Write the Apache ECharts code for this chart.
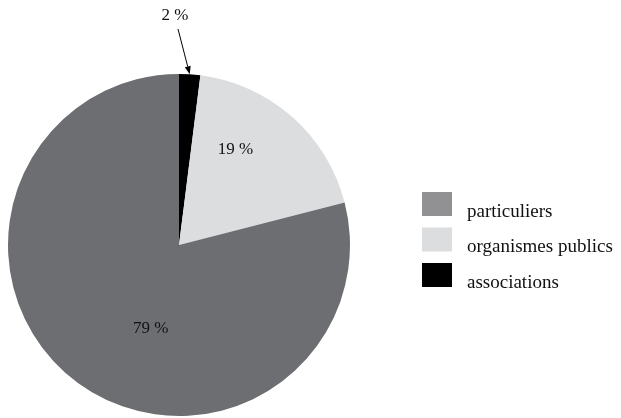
<!DOCTYPE html>
<html><head><meta charset="utf-8">
<script src="https://cdn.jsdelivr.net/npm/echarts@6/dist/echarts.min.js"></script>
<style>html,body{margin:0;padding:0;background:#fff}#c{width:621px;height:418px}</style>
</head><body><div id="c"></div>
<script>
const categories = ['associations', 'organismes publics', 'particuliers'];
const values = [2, 19, 79];
const sliceColors = ['#000000', '#dcdddf', '#6d6e71'];
const legendOrder = ['particuliers', 'organismes publics', 'associations'];
const legendColors = ['#919194', '#dcdddf', '#000000'];

const FONT = '"Liberation Serif", "DejaVu Serif", serif';
const cx = 179, cy = 245, R = 171;
const labelOffsets = [[0, 0], [-2, -29], [26, 14]];

const chart = echarts.init(document.getElementById('c'));
const total = values.reduce((a, b) => a + b, 0);
const midAng = (values[0] / 2) / total * 2 * Math.PI;
const ex = cx + R * Math.sin(midAng), ey = cy - R * Math.cos(midAng);
const sx = 178, sy = 29;
const ang = Math.atan2(ey - sy, ex - sx);
const ah = 8, aw = 3;
const bx = ex - ah * Math.cos(ang), by = ey - ah * Math.sin(ang);

chart.setOption({
  animation: false,
  legend: {
    orient: 'vertical', left: 417, top: 187,
    itemWidth: 30, itemHeight: 24, itemGap: 6,
    icon: 'rect', selectedMode: false,
    formatter: '{a|{name}}',
    textStyle: { fontFamily: FONT, fontSize: 19, color: '#111',
      rich: { a: { fontFamily: FONT, fontSize: 19, color: '#111', padding: [16, 0, 0, 10] } } },
    data: legendOrder.map((n, i) => ({ name: n, itemStyle: { color: legendColors[i] } }))
  },
  graphic: [
    { type: 'line', shape: { x1: sx, y1: sy, x2: bx, y2: by }, style: { stroke: '#000', lineWidth: 1 } },
    { type: 'polygon', shape: { points: [[ex, ey],
        [bx + aw * Math.sin(ang), by - aw * Math.cos(ang)],
        [bx - aw * Math.sin(ang), by + aw * Math.cos(ang)]] }, style: { fill: '#000' } }
  ],
  series: [{
    type: 'pie', center: [cx, cy], radius: R, startAngle: 90, clockwise: true,
    avoidLabelOverlap: false,
    itemStyle: { borderWidth: 0 },
    label: { show: true, position: 'inside', formatter: '{c} %', fontFamily: FONT, fontSize: 17, color: '#111' },
    labelLine: { show: false },
    emphasis: { disabled: true },
    data: categories.map((n, i) => {
      const d = { name: n, value: values[i], itemStyle: { color: sliceColors[i] } };
      if (i === 0) {
        d.label = { position: 'outside', offset: [0, 0] };
      } else {
        d.label = { offset: labelOffsets[i] };
      }
      return d;
    }),
    labelLayout: function (p) {
      if (p.dataIndex === 0) return { x: 175, y: 16, align: 'center', verticalAlign: 'middle' };
      return {};
    }
  }]
});
</script></body></html>
